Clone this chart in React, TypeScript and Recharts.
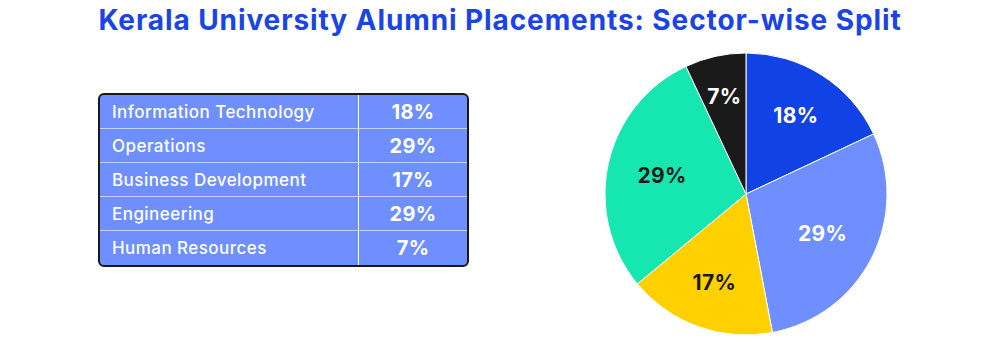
import { Cell, Pie, PieChart } from "recharts";

const sectors = ["Information Technology", "Operations", "Business Development", "Engineering", "Human Resources"];
const shares = [18, 29, 17, 29, 7];
const sliceColors = ["#1142e6", "#6e8ffd", "#ffd000", "#16e6b0", "#1a1a1a"];
const labelColors = ["#ffffff", "#ffffff", "#1a1a1a", "#1a1a1a", "#ffffff"];

const FONT = "Inter, 'Noto Sans', sans-serif";
const RADIAN = Math.PI / 180;

const data = sectors.map((name, i) => ({ name, value: shares[i] }));

function renderLabel(props: any) {
  const { cx, cy, midAngle, outerRadius, index, value, percent } = props;
  // bigger slices get their label pulled a bit further in
  const r = outerRadius * (0.74 - percent * 0.45);
  const x = cx + r * Math.cos(-midAngle * RADIAN);
  const y = cy + r * Math.sin(-midAngle * RADIAN);
  return (
    <text
      x={x}
      y={y}
      fill={labelColors[index]}
      textAnchor="middle"
      dominantBaseline="central"
      fontFamily={FONT}
      fontWeight={700}
      fontSize={21}
      letterSpacing={0.3}
    >
      {value}%
    </text>
  );
}

export default function App() {
  return (
    <div style={{ position: "absolute", left: 0, top: 0, width: 1000, height: 345, background: "#fff", fontFamily: FONT }}>
      <div
        style={{
          position: "absolute",
          top: 3,
          left: 0,
          width: 1000,
          textAlign: "center",
          color: "#1a44e6",
          fontWeight: 700,
          fontSize: 28,
          letterSpacing: 0.9,
        }}
      >
        Kerala University Alumni Placements: Sector-wise Split
      </div>

      <div
        style={{
          position: "absolute",
          left: 98,
          top: 93,
          width: 367,
          border: "2px solid #1a1a1a",
          borderRadius: 6,
          background: "#6e8ffd",
          overflow: "hidden",
        }}
      >
        {data.map((d, i) => (
          <div
            key={d.name}
            style={{
              display: "flex",
              height: i < data.length - 1 ? 33 : 34,
              borderBottom: i < data.length - 1 ? "1px solid #c7d3ff" : "none",
              color: "#fff",
            }}
          >
            <div
              style={{
                boxSizing: "border-box",
                width: 259,
                borderRight: "1px solid #ffffff",
                paddingLeft: 12,
                fontSize: 17,
                fontWeight: 500,
                letterSpacing: 0.45,
                display: "flex",
                alignItems: "center",
              }}
            >
              {d.name}
            </div>
            <div style={{ flex: 1, display: "flex", alignItems: "center", justifyContent: "center", fontSize: 20, fontWeight: 700, letterSpacing: 0.3 }}>
              {d.value}%
            </div>
          </div>
        ))}
      </div>

      <div style={{ position: "absolute", left: 0, top: 0 }}>
        <PieChart width={1000} height={345} margin={{ top: 0, right: 0, bottom: 0, left: 0 }}>
          <Pie
            data={data}
            dataKey="value"
            cx={746}
            cy={194}
            outerRadius={141}
            startAngle={90}
            endAngle={-270}
            stroke="#ffffff"
            strokeWidth={1}
            label={renderLabel}
            labelLine={false}
            isAnimationActive={false}
          >
            {data.map((d, i) => (
              <Cell key={d.name} fill={sliceColors[i]} />
            ))}
          </Pie>
        </PieChart>
      </div>
    </div>
  );
}
